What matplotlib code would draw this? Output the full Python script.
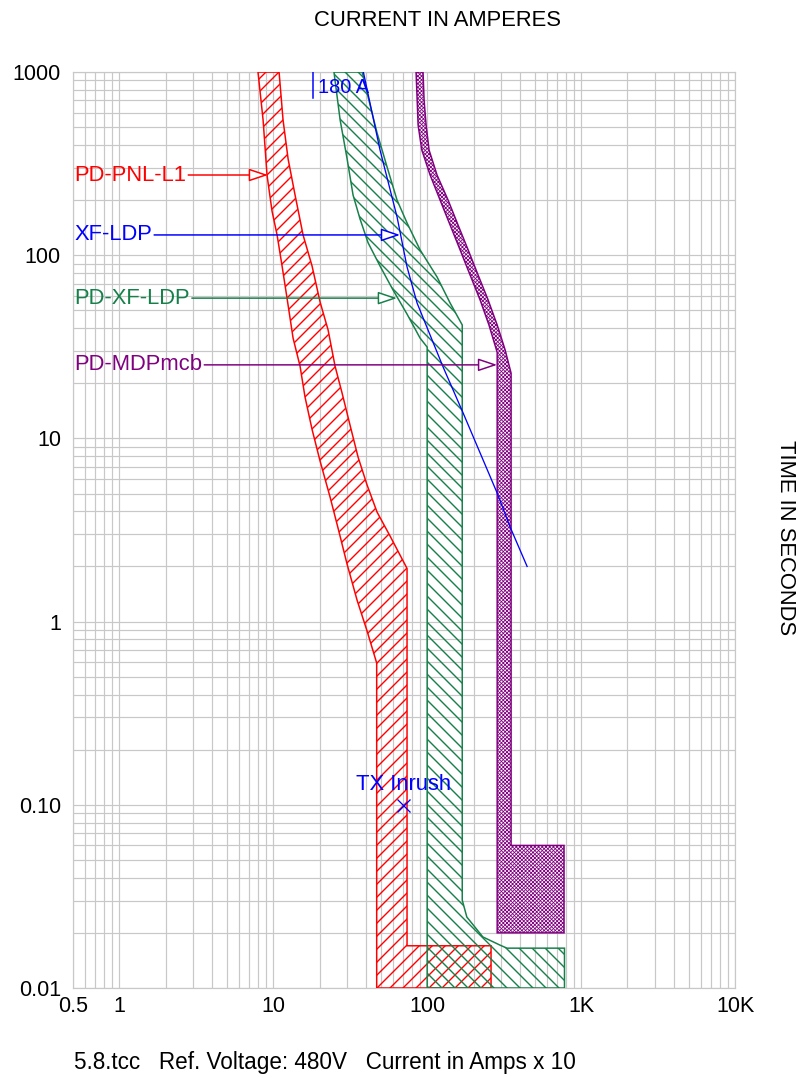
import numpy as np
import matplotlib
matplotlib.use('Agg')
import matplotlib.pyplot as plt
from matplotlib.patches import Polygon
from matplotlib import font_manager

DPI = 78
W, H = 799, 1078


def pt(px):
    return px * 72.0 / DPI


# ---------------- data (current in A x10, time in s) ----------------
pnl_left_I = [7.96, 8.59, 9.11, 9.82, 10.59, 11.41, 12.29, 13.45, 14.93, 16.09, 17.87, 20.14,
              23.39, 26.36, 30.17, 35.04, 40.69, 47.0, 47.0]
pnl_left_T = [1000, 547, 274, 174, 129, 87.3, 58.3, 35.3, 24.8, 16.8, 11.2, 7.53,
              4.79, 3.24, 2.06, 1.31, 0.889, 0.594, 0.01]
pnl_right_I = [10.91, 11.58, 12.49, 13.86, 15.62, 17.87, 20.14, 22.71, 25.21, 27.99, 31.55, 35.56,
               40.69, 47.26, 57.42, 74.0, 74.0, 260, 260]
pnl_right_T = [1000, 547, 335, 213, 129, 87.3, 55.6, 39.1, 24.8, 17.7, 11.8, 7.91,
               5.57, 3.96, 2.93, 1.95, 0.017, 0.017, 0.01]

xf_left_I = [24.8, 27.2, 30.2, 33.0, 36.6, 41.3, 49.4, 60.0, 74.0, 89.9, 100, 100]
xf_left_T = [1000, 547, 335, 213, 158, 117, 87.3, 64.6, 47.7, 35.3, 31.5, 0.01]
xf_right_I = [37.8, 41.3, 47.3, 54.9, 63.7, 74.0, 89.9, 116, 141, 169, 169, 181, 230, 297, 330, 780, 780]
xf_right_T = [1000, 731, 464, 303, 200, 150, 107, 76, 54.8, 41.6, 0.0302, 0.0244, 0.019, 0.01715,
              0.0165, 0.0165, 0.01]

mdp_left_I = [84.7, 86.1, 87.3, 92.3, 104.5, 121.3, 141, 163.6, 190, 220.7, 252, 285, 285]
mdp_left_T = [1000, 703, 514, 375, 274, 200, 146, 107, 78, 57, 41.6, 29.5, 0.02]
mdp_right_I = [94.0, 95.5, 98.4, 102.9, 115.9, 136.7, 158.8, 184.5, 214.2, 248.8, 285, 320.7, 351,
               351, 775, 775]
mdp_right_T = [1000, 703, 514, 375, 274, 200, 146, 107, 78, 57, 41.6, 30.5, 22.7,
               0.06, 0.06, 0.02]

xfmr_I = [38.5, 49.4, 63.7, 74, 86, 127, 171, 285, 346, 446]
xfmr_T = [1000, 375, 162, 86.3, 54.8, 24.5, 13.8, 5.03, 3.28, 2.0]

fla_I = 18.0
fla_T = [1000, 722]
inrush_I = 70
inrush_T = 0.1

labels = ['PD-PNL-L1', 'XF-LDP', 'PD-XF-LDP', 'PD-MDPmcb']
label_T = [274, 129, 58.3, 25.2]
label_tip_I = [9.25, 66.7, 63.7, 285]

xtick_vals = [0.5, 1, 10, 100, 1000, 10000]
xtick_labels = ['0.5', '1', '10', '100', '1K', '10K']
ytick_vals = [0.01, 0.1, 1, 10, 100, 1000]
ytick_labels = ['0.01', '0.10', '1', '10', '100', '1000']

RED = '#FF0000'
BLUE = '#0000FF'
GREEN = '#16804A'
PURPLE = '#800080'
GRID = '#c8c8c8'

plt.rcParams['font.family'] = ['Liberation Sans', 'DejaVu Sans']
plt.rcParams['hatch.linewidth'] = pt(1.4)

fig = plt.figure(figsize=(W / DPI, H / DPI), dpi=DPI)
ax = fig.add_axes([73 / W, 1 - 988 / H, (735 - 73) / W, (988 - 72) / H])
ax.set_xscale('log')
ax.set_yscale('log')
ax.set_xlim(0.5, 10000)
ax.set_ylim(0.01, 1000)

# grid
xminor = [m * 10.0 ** e for e in range(-1, 4) for m in range(1, 10)]
xminor = [v for v in xminor if 0.5 <= v <= 10000]
yminor = [m * 10.0 ** e for e in range(-2, 3) for m in range(1, 10)]
ax.set_xticks(xminor, minor=True)
ax.set_yticks(yminor, minor=True)
ax.set_xticks(xtick_vals)
ax.set_xticklabels(xtick_labels)
ax.set_yticks(ytick_vals)
ax.set_yticklabels(ytick_labels)
ax.xaxis.set_minor_formatter(matplotlib.ticker.NullFormatter())
ax.yaxis.set_minor_formatter(matplotlib.ticker.NullFormatter())
ax.tick_params(which='both', length=0, labelsize=pt(21.5), colors='black')
ax.tick_params(axis='x', pad=pt(8))
ax.tick_params(axis='y', pad=pt(12))
ax.grid(which='both', color=GRID, linewidth=pt(1.2))
ax.set_axisbelow(True)
for s in ax.spines.values():
    s.set_color(GRID)
    s.set_linewidth(pt(1.2))


def band(li, lt, ri, rt):
    return list(zip(li, lt)) + list(zip(ri, rt))[::-1]


lw = pt(1.5)
ax.add_patch(Polygon(band(pnl_left_I, pnl_left_T, pnl_right_I, pnl_right_T), closed=True,
                     facecolor='none', edgecolor=RED, hatch='//', linewidth=lw, zorder=3))
ax.add_patch(Polygon(band(xf_left_I, xf_left_T, xf_right_I, xf_right_T), closed=True,
                     facecolor='none', edgecolor=GREEN, hatch='\\\\', linewidth=lw, zorder=3))
with plt.rc_context({'hatch.linewidth': pt(0.8)}):
    pm = Polygon(band(mdp_left_I, mdp_left_T, mdp_right_I, mdp_right_T), closed=True,
                 facecolor='white', edgecolor=PURPLE, hatch='xxxxxxx', linewidth=lw, zorder=3)
    if hasattr(pm, 'set_hatch_linewidth'):
        pm.set_hatch_linewidth(pt(0.8))
    ax.add_patch(pm)

ax.plot(xfmr_I, xfmr_T, color=BLUE, linewidth=pt(1.3), zorder=4)
ax.plot([fla_I, fla_I], fla_T, color=BLUE, linewidth=pt(1.5), zorder=4)
ax.text(19.6, 818, '180 A', color=BLUE, fontsize=pt(20), ha='left', va='center', zorder=5)

ax.plot([inrush_I], [inrush_T], marker='x', color=BLUE, markersize=pt(13), mew=pt(1.3), zorder=5)
ax.text(inrush_I, inrush_T * 10 ** (20 / 183.2), 'TX Inrush', color=BLUE, fontsize=pt(22),
        ha='center', va='center', zorder=5)

label_colors = [RED, BLUE, GREEN, PURPLE]
for lab, t, tip, c in zip(labels, label_T, label_tip_I, label_colors):
    ax.annotate(lab, xy=(tip, t), xytext=(0.508, t), color=c, fontsize=pt(22),
                ha='left', va='center', zorder=6,
                arrowprops=dict(arrowstyle='-|>,head_length=1.25,head_width=0.42',
                                mutation_scale=pt(13), fc='white', ec=c,
                                lw=pt(1.5), shrinkA=0, shrinkB=0))

fig.text(438 / W, 1 - 20 / H, 'CURRENT IN AMPERES', fontsize=pt(22), ha='center', va='center')
fig.text(786 / W, 1 - 538 / H, 'TIME IN SECONDS', fontsize=pt(22), ha='center', va='center',
         rotation=270)

narrow = 'Liberation Sans Narrow'
try:
    font_manager.findfont(narrow, fallback_to_default=False)
    bfam = [narrow, 'Liberation Sans']
    bsize = pt(27.5)
except Exception:
    bfam = ['Liberation Sans']
    bsize = pt(22.5)
fig.text(74 / W, 1 - 1062 / H, '5.8.tcc   Ref. Voltage: 480V   Current in Amps x 10',
         fontsize=bsize, family=bfam, ha='left', va='center')

fig.savefig('out.png', dpi=DPI)
